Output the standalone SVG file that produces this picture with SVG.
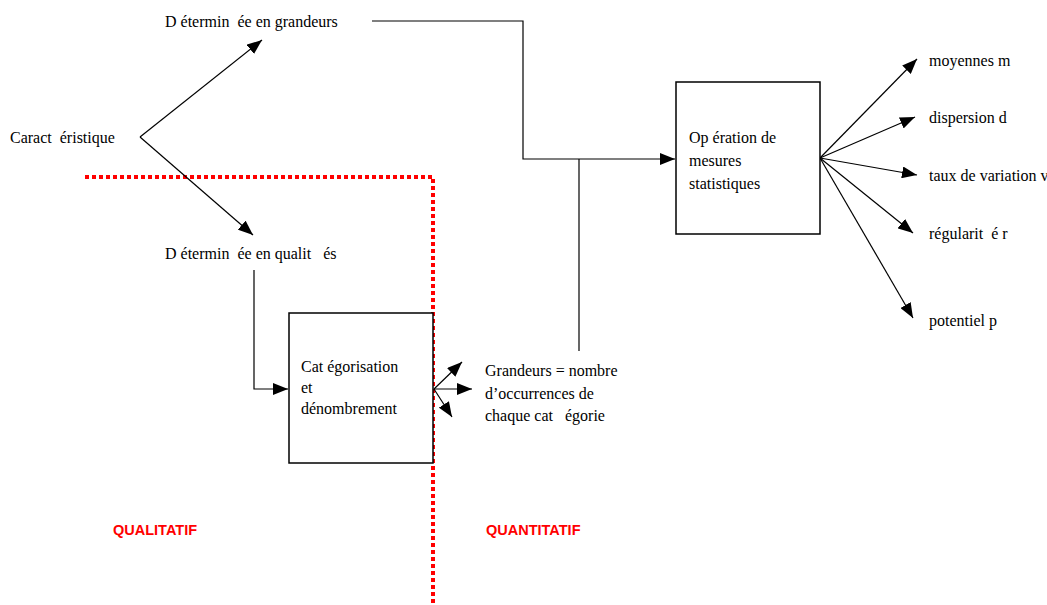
<svg xmlns="http://www.w3.org/2000/svg" width="1047" height="605" viewBox="0 0 1047 605">
<defs>
<marker id="ah" markerUnits="userSpaceOnUse" markerWidth="16" markerHeight="12" refX="15" refY="6" orient="auto">
<path d="M0,0 L15,6 L0,12 Z" fill="#000"/>
</marker>
<style>
.t{font-family:"Liberation Serif","Times New Roman",serif;font-size:16px;fill:#000;white-space:pre}
.r{font-family:"Liberation Sans",Arial,sans-serif;font-size:14.5px;font-weight:bold;fill:#ff0000}
.c{fill:none;stroke:#000;stroke-width:1.2}
.a{marker-end:url(#ah)}
.box{fill:#fff;stroke:#000;stroke-width:1.5}
.div{fill:none;stroke:#ff0000;stroke-width:4;stroke-dasharray:4 3}
</style>
</defs>
<rect width="1047" height="605" fill="#fff"/>
<g id="divider">
<path class="div" d="M85,177 L433,177 L433,605"/>
</g>
<g id="connectors">
<path class="c a" d="M140,137 L262,40"/>
<path class="c a" d="M140,137 L253,235"/>
<path class="c a" d="M372,21 L523,21 L523,159 L675,159" stroke="#444"/>
<path class="c" d="M579,159 L579,351"/>
<path class="c a" d="M254,270 L254,389 L288,389"/>
<path class="c a" d="M434,389 L462,362"/>
<path class="c a" d="M434,389 L472,389"/>
<path class="c a" d="M434,389 L452,417"/>
<path class="c a" d="M820,158 L917,59"/>
<path class="c a" d="M820,158 L915,117"/>
<path class="c a" d="M820,158 L917,175"/>
<path class="c a" d="M820,158 L913,233"/>
<path class="c a" d="M820,158 L913,318"/>
</g>
<g id="caracteristique"><text class="t" x="10" y="143">Caract  éristique</text></g>
<g id="grandeurs"><text class="t" x="165" y="27">D étermin  ée en grandeurs</text></g>
<g id="qualites"><text class="t" x="165" y="259">D étermin  ée en qualit   és</text></g>
<g id="categorisation">
<rect class="box" x="289" y="313" width="144" height="150"/>
<text class="t" x="301" y="372">Cat égorisation</text>
<text class="t" x="301" y="393">et</text>
<text class="t" x="301" y="414">dénombrement</text>
</g>
<g id="occurrences">
<text class="t" x="485" y="376">Grandeurs = nombre</text>
<text class="t" x="485" y="399">d’occurrences de</text>
<text class="t" x="485" y="421">chaque cat   égorie</text>
</g>
<g id="operation">
<rect class="box" x="676" y="82" width="144" height="152"/>
<text class="t" x="689" y="143">Op ération de</text>
<text class="t" x="689" y="166">mesures</text>
<text class="t" x="689" y="189">statistiques</text>
</g>
<g id="moyennes"><text class="t" x="929" y="66">moyennes m</text></g>
<g id="dispersion"><text class="t" x="929" y="123">dispersion d</text></g>
<g id="taux"><text class="t" x="929" y="181">taux de variation v</text></g>
<g id="regularite"><text class="t" x="929" y="239">régularit  é r</text></g>
<g id="potentiel"><text class="t" x="929" y="326">potentiel p</text></g>
<g id="qualitatif"><text class="r" x="113" y="535">QUALITATIF</text></g>
<g id="quantitatif"><text class="r" x="486" y="535">QUANTITATIF</text></g>
</svg>
